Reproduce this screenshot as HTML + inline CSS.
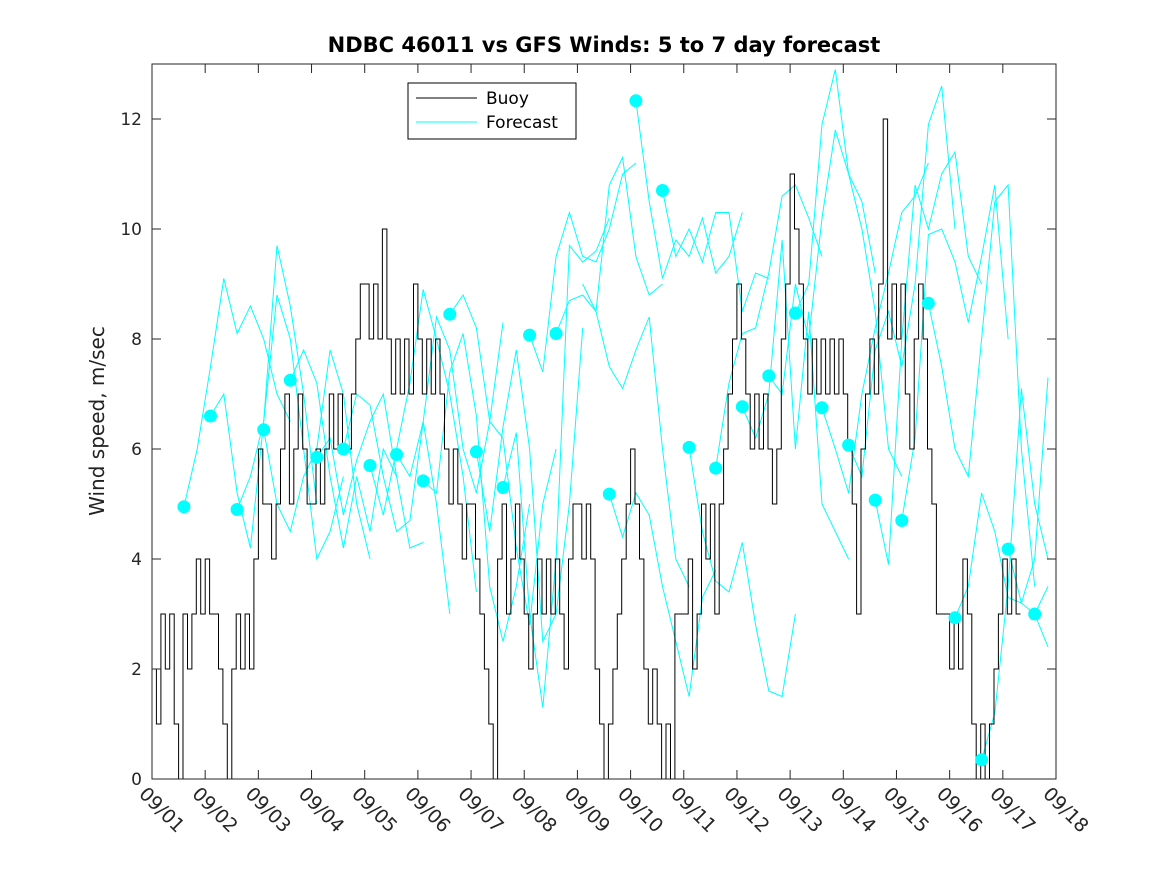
<!DOCTYPE html>
<html><head><meta charset="utf-8"><style>
html,body{margin:0;padding:0;background:#fff;}
svg{display:block;font-family:"DejaVu Sans","Liberation Sans",sans-serif;}
</style></head><body>
<svg id="chart" width="1167" height="875" viewBox="0 0 1167 875" xmlns="http://www.w3.org/2000/svg">
<rect x="0" y="0" width="1167" height="875" fill="#fff"/>
<text x="604" y="52" text-anchor="middle" font-size="21" font-weight="bold" fill="#000">NDBC 46011 vs GFS Winds: 5 to 7 day forecast</text>
<text transform="translate(104,421) rotate(-90)" text-anchor="middle" font-size="20" fill="#222">Wind speed, m/sec</text>
<g id="plot"></g>
<g id="axes"></g>
<g id="legend">
<rect x="408" y="83" width="168" height="56" fill="#fff" stroke="#000" stroke-width="1"/>
<line x1="416" y1="98" x2="477" y2="98" stroke="#000" stroke-width="1"/>
<text x="486" y="104" font-size="17" fill="#000">Buoy</text>
<line x1="416" y1="122" x2="477" y2="122" stroke="#00ffff" stroke-width="1"/>
<text x="486" y="128" font-size="17" fill="#000">Forecast</text>
</g>
</svg>
<script>
const xTickLabels = ["09/01","09/02","09/03","09/04","09/05","09/06","09/07","09/08","09/09","09/10","09/11","09/12","09/13","09/14","09/15","09/16","09/17","09/18"];
const yTicks = [0,2,4,6,8,10,12];
// buoy values every 2 hours (12 per day), starting 09/01 00:00
const buoyValues = [
2,1,3,2,3,1,0,3,2,3,4,3,
4,3,3,2,1,0,2,3,2,3,2,4,
6,5,5,4,5,6,7,5,6,7,6,5,
5,6,5,6,7,6,7,6,6,7,8,9,
9,8,9,8,10,8,7,8,7,8,7,9,
8,7,8,7,8,7,6,5,6,5,4,5,
5,4,3,2,1,0,4,5,3,4,5,4,
3,2,3,4,3,4,3,4,3,2,4,5,
5,4,5,4,2,1,0,1,2,3,4,5,
6,5,4,2,1,2,1,0,1,0,3,3,
3,4,2,3,5,4,5,3,5,6,7,8,
9,8,7,6,7,6,7,6,5,6,8,9,
11,10,9,8,7,8,7,8,7,8,7,8,
7,6,5,3,6,7,8,7,9,12,8,9,
8,9,7,6,8,9,8,6,5,3,3,3,
2,3,2,4,3,1,0,1,0,1,2,3,
4,3,4,3];
// forecast dots: day offset and speed
const dotDays = [0.6,1.1,1.6,2.1,2.6,3.1,3.6,4.1,4.6,5.1,5.6,6.1,6.6,7.1,7.6,8.6,9.1,9.6,10.1,10.6,11.1,11.6,12.1,12.6,13.1,13.6,14.1,14.6,15.1,15.6,16.1,16.6];
const dotValues = [4.95,6.6,4.9,6.35,7.25,5.85,6.0,5.7,5.9,5.42,8.45,5.95,5.3,8.07,8.1,5.18,12.33,10.7,6.03,5.65,6.77,7.33,8.47,6.75,6.07,5.07,4.7,8.65,2.93,0.35,4.18,3.0];
// forecast run segments: start day and values every 6 hours
const segStarts = [0.6,1.1,1.6,2.1,2.6,3.1,3.6,4.1,4.6,5.1,5.6,6.1,6.6,7.1,7.6,8.1,8.6,9.1,9.6,10.1,10.6,11.1,11.6,12.1,12.6,13.1,13.6,14.1,14.6,15.1,15.6,16.1,16.6];
const segValues = [
[4.95,6,7.5,9.1,8.1,8.6,8,7,6.5],
[6.6,7,5.2,4.2,6.5,9.7,8.6,7,5],
[4.9,5.5,6.5,8.8,8,6,4,4.5,5.5],
[6.35,5,4.5,5.5,6,7.8,7,5,4],
[7.25,7.8,7.2,5.5,4.2,5.5,4.5,6,5.5],
[5.85,6.2,4.8,5.8,6.5,7,5.5,4.2,4.3],
[6,7,6.8,5.5,4.5,4.7,6.5,5,3],
[5.7,4.8,6,7.2,8.9,8,7,5.5,3.4],
[5.9,5.5,6.5,8.4,7.8,6,5.2,6.5,8.3],
[5.42,5.2,7.4,8.1,6.6,3.5,2.5,3.5,5],
[8.45,8.8,8.2,6.5,6.2,4.2,2.8,5,6],
[5.95,4.5,6.4,7.8,6,2.5,3,5,8.2],
[5.3,6.3,3,1.3,4,9.7,9.4,9.6,10.2],
[8.07,7.4,9.5,10.3,9.5,9.4,10,11,11.2],
[8.1,8.7,8.8,8.5,10.8,11.3,9.5,8.8,9],
[9,8.5,7.5,7.1,7.8,8.4,6,4,3.5],
[5.18,4.4,5.2,4.8,3.5,2.5,1.5,3.3,3.8],
[12.33,10.5,9.1,9.8,9.5,10.2,9.2,9.5,10.3],
[10.7,9.5,10,9.4,10.3,10.3,8.5,9.2,9.1],
[6.03,4.5,3.6,3.4,4.3,2.8,1.6,1.5,3],
[5.65,7.2,8.1,8.2,9.2,10.6,10.8,10.2,9.5],
[6.77,6.2,7,9.8,6,8.5,5,4.5,4],
[7.33,7,9,8,10.2,11.8,11,10.5,9.2],
[8.47,9,11.9,12.9,11,10,8.5,6,5.5],
[6.75,6,5.2,7,8.2,9.2,10.3,10.6,11.2],
[6.07,5.5,7.8,8.5,7.5,9,11.9,12.6,10],
[5.07,3.9,8,10.8,10,11,11.4,9.5,9],
[4.7,6.2,9.9,10,9.4,8.3,9.5,10.8,8],
[8.65,7.5,6,5.5,8,10.5,10.8,6,3.5],
[2.93,3.5,5.2,4.5,3.3,3.2,4,7.3,7.2],
[0.35,1.2,3.5,7.1,5,4,2.2,2,1.6],
[4.18,3.2,3,2.4,1.4,0.8,1.5,3.2,4.8],
[3,3.5,2.6,2,1.5,2.5,3.7,2.8,3.5]];

const NS = "http://www.w3.org/2000/svg";
const L = 152, R = 1056, T = 64, B = 779;
const xMax = 17, yMax = 13;
function xs(d){ return L + (R - L) * d / xMax; }
function ys(v){ return B - (B - T) * v / yMax; }
function mk(tag, attrs, parent){ const e = document.createElementNS(NS, tag); for (const k in attrs) e.setAttribute(k, attrs[k]); parent.appendChild(e); return e; }
const plot = document.getElementById('plot');
const axes = document.getElementById('axes');

segStarts.forEach((s, i) => {
  const pts = [];
  segValues[i].forEach((v, j) => { const d = s + j * 0.25; if (d <= xMax) pts.push(xs(d).toFixed(1) + ',' + ys(v).toFixed(1)); });
  const pl = mk('polyline', {points: pts.join(' '), fill: 'none', stroke: '#00ffff', 'stroke-width': 1}, plot);
  
  
});
(function(){
  const step = 1/12; let p = [];
  buoyValues.forEach((v, i) => { const d0 = i * step, d1 = Math.min((i + 1) * step, xMax); p.push(xs(d0).toFixed(1) + ',' + ys(v).toFixed(1)); p.push(xs(d1).toFixed(1) + ',' + ys(v).toFixed(1)); });
  const pl = mk('polyline', {points: p.join(' '), fill: 'none', stroke: '#000', 'stroke-width': 1}, plot);
  
  
})();
dotDays.forEach((d, i) => {
  const c = mk('circle', {cx: xs(d).toFixed(1), cy: ys(dotValues[i]).toFixed(1), r: 6.5, fill: '#00ffff'}, plot);
  
  
});
const box = mk('rect', {x: L, y: T, width: R - L, height: B - T, fill: 'none', stroke: '#262626', 'stroke-width': 1}, axes);


yTicks.forEach(v => {
  const y = ys(v);
  mk('line', {x1: L, y1: y, x2: L + 9, y2: y, stroke: '#262626'}, axes);
  mk('line', {x1: R, y1: y, x2: R - 9, y2: y, stroke: '#262626'}, axes);
  const t = mk('text', {x: L - 10, y: y + 6, 'text-anchor': 'end', 'font-size': 17, fill: '#262626'}, axes);
  t.textContent = v;
  
  
});
xTickLabels.forEach((lab, i) => {
  const x = xs(i);
  mk('line', {x1: x, y1: B, x2: x, y2: B - 9, stroke: '#262626'}, axes);
  mk('line', {x1: x, y1: T, x2: x, y2: T + 9, stroke: '#262626'}, axes);
  const t = mk('text', {transform: 'translate(' + (x - 14) + ',' + (B + 16) + ') rotate(45)', 'font-size': 19, fill: '#262626'}, axes);
  t.textContent = lab;
  
  
});
</script>
</body></html>
